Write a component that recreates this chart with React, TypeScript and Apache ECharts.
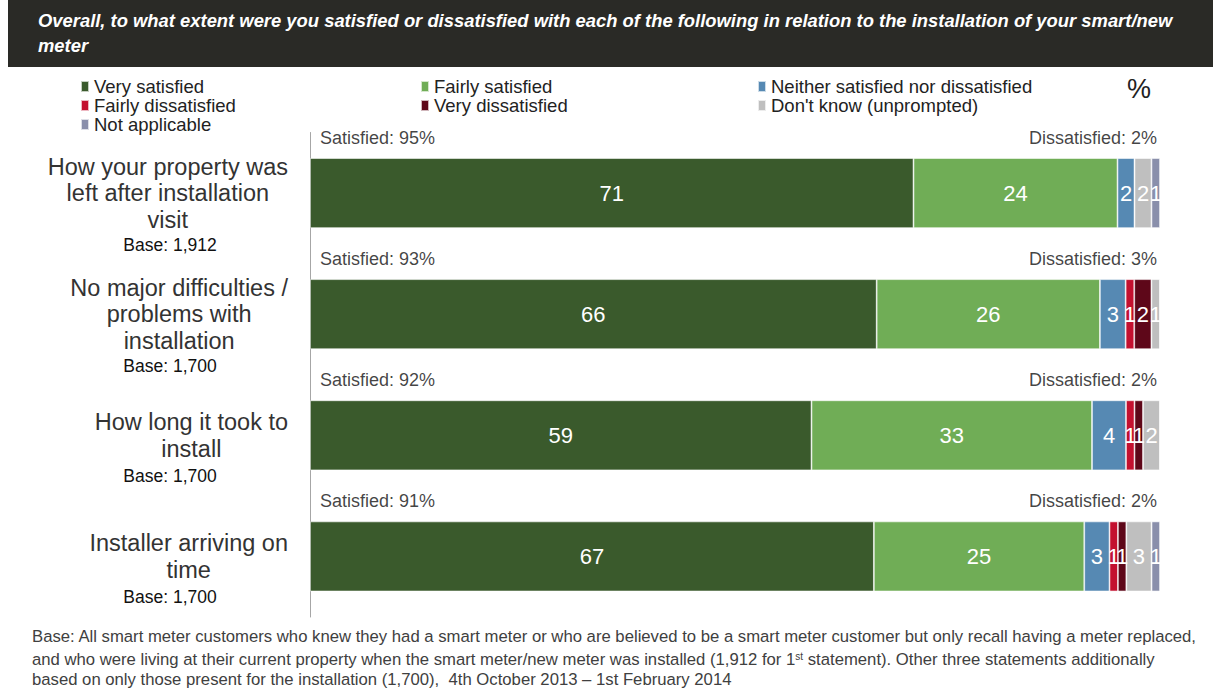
import React, { useEffect, useRef } from "react";
import * as echarts from "echarts";

const titleLines = [
  "Overall, to what extent were you satisfied or dissatisfied with each of the following in relation to the installation of your smart/new",
  "meter",
];

const categories = [
  "How your property was\nleft after installation\nvisit",
  "No major difficulties /\nproblems with\ninstallation",
  "How long it took to\ninstall",
  "Installer arriving on\ntime",
];
const bases = ["Base: 1,912", "Base: 1,700", "Base: 1,700", "Base: 1,700"];

const seriesNames = [
  "Very satisfied",
  "Fairly satisfied",
  "Neither satisfied nor dissatisfied",
  "Fairly dissatisfied",
  "Very dissatisfied",
  "Don't know (unprompted)",
  "Not applicable",
];
const seriesColors = ["#3a5a2c", "#70ad56", "#5689b3", "#c3102f", "#5e0719", "#bfbfbf", "#8a8fab"];

const verySatisfied = [71, 66, 59, 67];
const fairlySatisfied = [24, 26, 33, 25];
const neither = [2, 3, 4, 3];
const fairlyDissatisfied = [0, 1, 1, 1];
const veryDissatisfied = [0, 2, 1, 1];
const dontKnow = [2, 1, 2, 3];
const notApplicable = [1, 0, 0, 1];

const satisfiedTotals = [95, 93, 92, 91];
const dissatisfiedTotals = [2, 3, 2, 2];

const footerLines = [
  "Base: All smart meter customers who knew they had a smart meter or who are believed to be a smart meter customer but only recall having a meter replaced,",
  "and who were living at their current property when the smart meter/new meter was installed (1,912 for 1{sup|st} statement). Other three statements additionally",
  "based on only those present for the installation (1,700),  4th October 2013 – 1st February 2014",
];

const FONT = "'Liberation Sans', Arial, sans-serif";

export default function App() {
  const ref = useRef<HTMLDivElement>(null);
  useEffect(() => {
    if (!ref.current) return;
    const chart = echarts.init(ref.current, undefined, { renderer: "svg" });
    const allSeries = [verySatisfied, fairlySatisfied, neither, fairlyDissatisfied, veryDissatisfied, dontKnow, notApplicable];
    const rowTotals = categories.map((_, i) => allSeries.reduce((s, arr) => s + arr[i], 0));

    const barSeries = allSeries.map((arr, si) => ({
      type: "bar",
      name: seriesNames[si],
      stack: "total",
      barWidth: 70,
      yAxisIndex: 0,
      itemStyle: { color: seriesColors[si], borderColor: "rgba(255,255,255,0.7)", borderWidth: 0.8 },
      label: {
        show: true,
        position: "inside",
        color: "#fff",
        fontSize: 22,
        fontFamily: FONT,
        formatter: (p: any) => (arr[p.dataIndex] > 0 ? String(arr[p.dataIndex]) : ""),
      },
      data: arr.map((v, i) => (v / rowTotals[i]) * 100),
    }));

    const legendText = { fontSize: 18.5, color: "#222", fontFamily: FONT, lineHeight: 16 };
    const legendBase = {
      orient: "vertical",
      top: 72,
      padding: 5,
      itemWidth: 8,
      itemHeight: 11,
      itemGap: 0,
      icon: "rect",
      textStyle: legendText,
    };

    chart.setOption({
      animation: false,
      textStyle: { fontFamily: FONT },
      legend: [
        { ...legendBase, left: 75, data: [seriesNames[0], seriesNames[3], seriesNames[6]] },
        { ...legendBase, left: 415, data: [seriesNames[1], seriesNames[4]] },
        { ...legendBase, left: 752, data: [seriesNames[2], seriesNames[5]] },
      ],
      grid: { left: 310, right: 53, top: 132.5, bottom: 72, containLabel: false },
      xAxis: { type: "value", min: 0, max: 100, show: false },
      yAxis: [
        {
          type: "category",
          inverse: true,
          data: categories,
          axisLine: { show: true, lineStyle: { color: "#a6a6a6", width: 1 } },
          axisTick: { show: false },
          axisLabel: {
            margin: 22,
            align: "right",
            formatter: (v: string) => `{n|${v}}`,
            rich: {
              n: { fontSize: 23.5, lineHeight: 26.5, color: "#333", fontFamily: FONT, align: "center" },
            },
          },
        },
        {
          type: "category",
          inverse: true,
          position: "left",
          data: categories,
          axisLine: { show: false },
          axisTick: { show: false },
          axisLabel: {
            margin: 140,
            align: "center",
            formatter: (v: string, idx: number) =>
              v.split("\n").length >= 3 ? `{b3|${bases[idx]}}` : `{b2|${bases[idx]}}`,
            rich: {
              b3: { fontSize: 17.5, lineHeight: 22, color: "#111", fontFamily: FONT, padding: [103, 0, 0, 0] },
              b2: { fontSize: 17.5, lineHeight: 22, color: "#111", fontFamily: FONT, padding: [81, 0, 0, 0] },
            },
          },
        },
      ],
      series: [
        ...barSeries,
        {
          type: "scatter",
          symbolSize: 0,
          silent: true,
          data: categories.map((_, i) => [0, i]),
          label: {
            show: true,
            position: [10, -55],
            align: "left",
            verticalAlign: "middle",
            fontSize: 18,
            color: "#111",
            fontFamily: FONT,
            formatter: (p: any) => `Satisfied: ${satisfiedTotals[p.dataIndex]}%`,
          },
        },
        {
          type: "scatter",
          symbolSize: 0,
          silent: true,
          data: categories.map((_, i) => [100, i]),
          label: {
            show: true,
            position: [-3, -55],
            align: "right",
            verticalAlign: "middle",
            fontSize: 18,
            color: "#111",
            fontFamily: FONT,
            formatter: (p: any) => `Dissatisfied: ${dissatisfiedTotals[p.dataIndex]}%`,
          },
        },
      ],
      graphic: [
        { type: "rect", left: 8, top: 0, shape: { width: 1205, height: 67 }, style: { fill: "#2a2a26" } },
        {
          type: "text",
          left: 38,
          top: 8,
          style: {
            text: titleLines.join("\n"),
            fill: "#fff",
            fontSize: 18.4,
            fontWeight: "bold",
            fontStyle: "italic",
            fontFamily: FONT,
            lineHeight: 25,
          },
        },
        {
          type: "text",
          left: 1127,
          top: 75,
          style: { text: "%", fill: "#222", fontSize: 27, fontFamily: FONT },
        },
        ...footerLines.map((t, i) => ({
          type: "text",
          left: 32,
          top: [628, 651, 671][i],
          style: {
            text: t,
            fill: "#404040",
            fontSize: 16.7,
            fontFamily: FONT,
            rich: {
              sup: { fontSize: 10, verticalAlign: "top", fill: "#404040", fontFamily: FONT },
            },
          },
        })),
      ],
    });
    return () => chart.dispose();
  }, []);
  return <div ref={ref} style={{ position: "fixed", left: 0, top: 0, width: 1213, height: 689, background: "#fff" }} />;
}
